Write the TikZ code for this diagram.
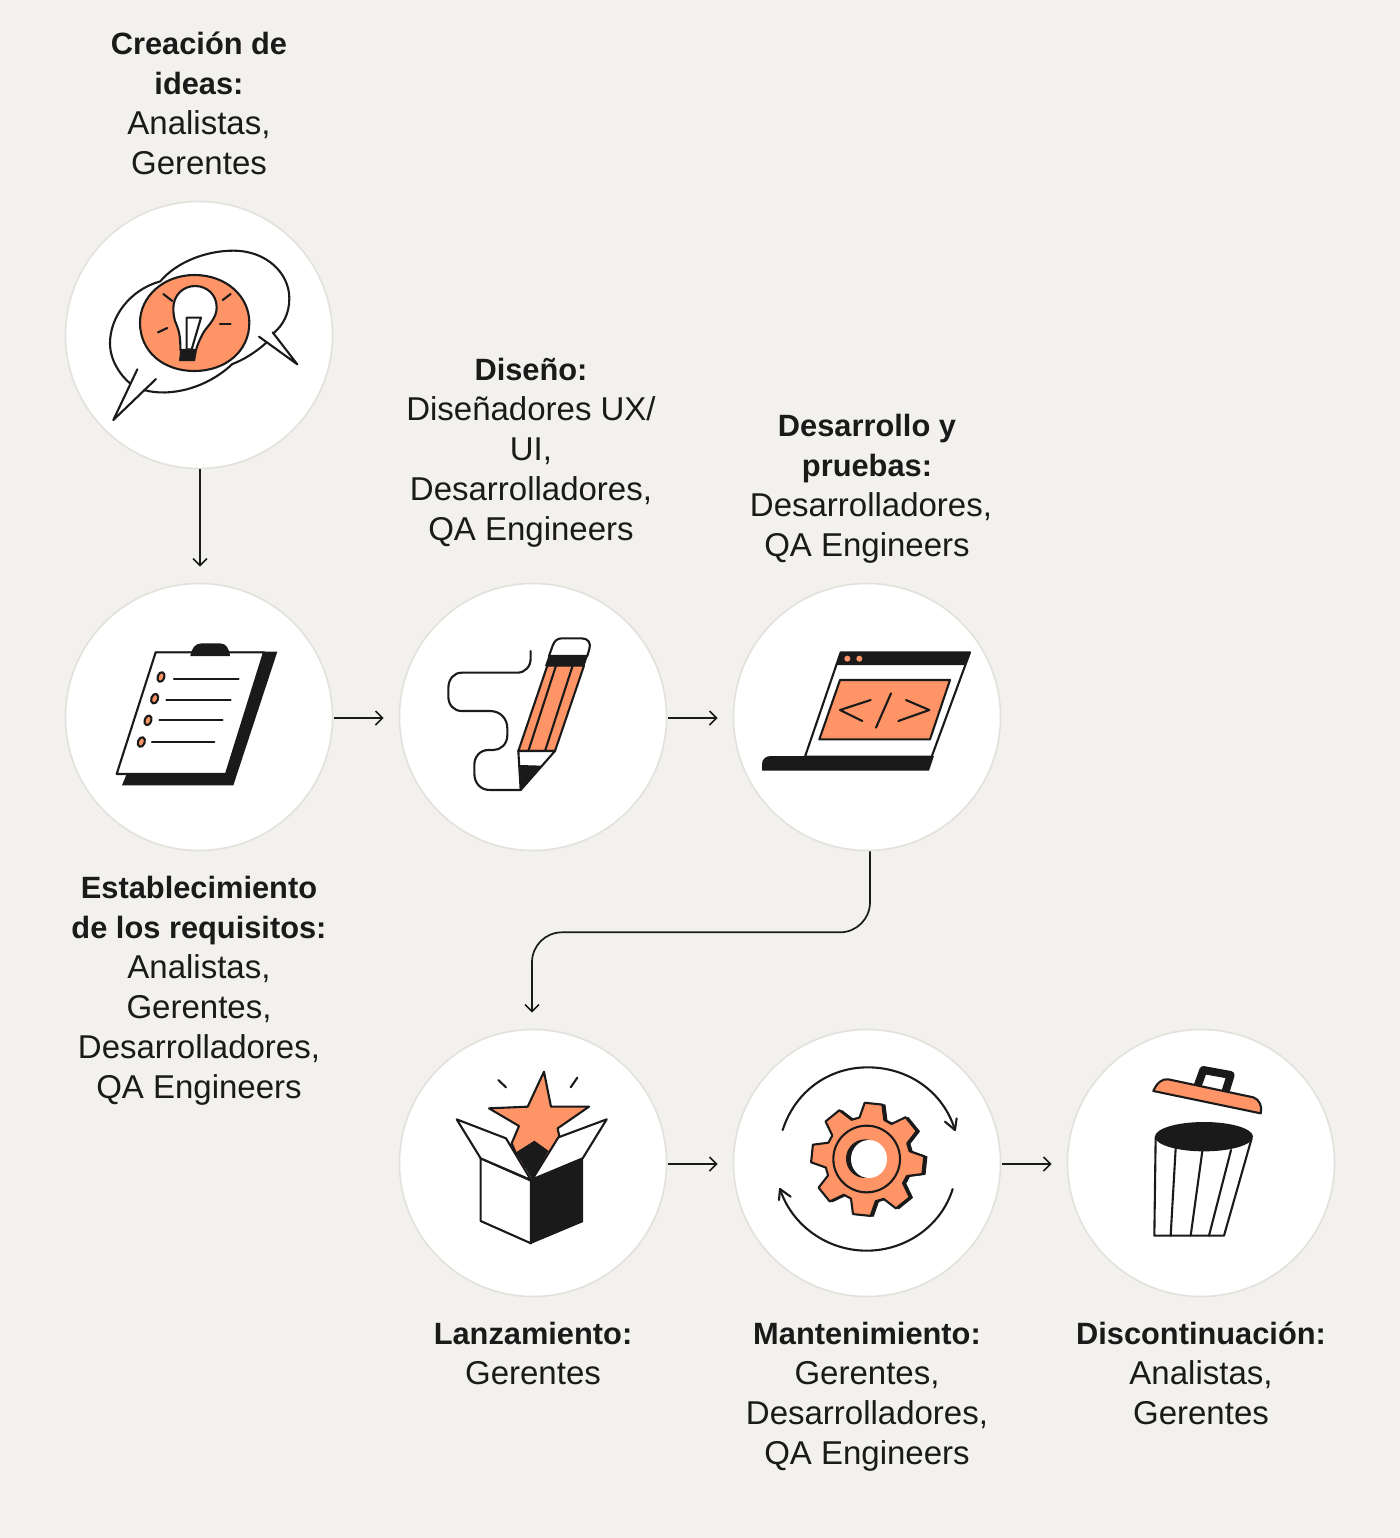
\documentclass[tikz,border=0pt]{standalone}
\usepackage{fontspec}
\setmainfont{Liberation Sans}
\usetikzlibrary{arrows.meta,calc}
\definecolor{bgc}{HTML}{F2F1ED}
\definecolor{ringc}{HTML}{E2E1DC}
\definecolor{ink}{HTML}{1A1A1A}
\definecolor{orng}{HTML}{FF9466}
\tikzset{
  stage/.style={circle,fill=white,draw=ringc,line width=0.8pt,minimum size=133.5pt,inner sep=0pt},
  lbl/.style={anchor=north,inner sep=0pt,align=center,text=ink,font=\fontsize{16.5}{20}\selectfont},
  flow/.style={draw=ink,line width=0.85pt,-{Straight Barb[length=3.5pt,width=7pt,line width=0.85pt]}},
  ic/.style={draw=ink,line width=1.05pt,line join=round,line cap=round},
  icb/.style={fill=ink,draw=ink,line width=0.5pt,line join=round},
  ico/.style={fill=orng,draw=ink,line width=1.05pt,line join=round},
  icw/.style={fill=white,draw=ink,line width=1.05pt,line join=round},
}
\newcommand{\hd}[1]{\strut{\fontsize{15.4}{20}\selectfont\bfseries #1}}
\newcommand{\gearoutline}{(-93:170) -- (-75:170) -- (-67:128) -- (-56:128)
  -- (-48:170) -- (-30:170) -- (-22:128) -- (-11:128)
  -- (-3:170) -- (15:170) -- (23:128) -- (34:128)
  -- (42:170) -- (60:170) -- (68:128) -- (79:128)
  -- (87:170) -- (105:170) -- (113:128) -- (124:128)
  -- (132:170) -- (150:170) -- (158:128) -- (169:128)
  -- (177:170) -- (195:170) -- (203:128) -- (214:128)
  -- (222:170) -- (240:170) -- (248:128) -- (259:128) -- cycle}
\begin{document}
\begin{tikzpicture}[x=0.5pt,y=-0.5pt]
\fill[bgc] (0,0) rectangle (1400,1538);
\useasboundingbox (0,0) rectangle (1400,1538);
\node[stage] (c1) at (199,335) {};
\node[stage] (c2) at (199,717) {};
\node[stage] (c3) at (533,717) {};
\node[stage] (c4) at (867,717) {};
\node[stage] (c5) at (533,1163) {};
\node[stage] (c6) at (867,1163) {};
\node[stage] (c7) at (1201,1163) {};
% connectors
\draw[flow,shorten >=8pt] ($(c1.south)+(1,0)$) -- ($(c2.north)+(1,0)$);
\draw[flow,shorten >=7.5pt] ($(c2.east)+(1,1)$) -- ($(c3.west)+(0,1)$);
\draw[flow,shorten >=7.5pt] ($(c3.east)+(1,1)$) -- ($(c4.west)+(0,1)$);
\draw[flow,shorten >=7.5pt] ($(c5.east)+(1,1)$) -- ($(c6.west)+(0,1)$);
\draw[flow,shorten >=7.5pt] ($(c6.east)+(1,1)$) -- ($(c7.west)+(0,1)$);
\draw[flow,shorten >=8pt,rounded corners=15pt] ($(c4.south)+(3,0)$) -- ++(0,81) -| ($(c5.north)+(-1,0)$);
% labels
\node[lbl] (t1) at (199,26) {\hd{Creación de}\\\hd{ideas:}\\Analistas,\\Gerentes};
\node[lbl] (t2) at (199,870) {\hd{Establecimiento}\\\hd{de los requisitos:}\\Analistas,\\Gerentes,\\Desarrolladores,\\QA Engineers};
\node[lbl] (t3) at (531,352) {\hd{Diseño:}\\Diseñadores UX/\\UI,\\Desarrolladores,\\QA Engineers};
\node[lbl] (t4) at (867,408) {\hd{Desarrollo y}\\\hd{pruebas:}\\\hspace*{4pt}Desarrolladores,\\QA Engineers};
\node[lbl] (t5) at (533,1316) {\hd{Lanzamiento:}\\Gerentes};
\node[lbl] (t6) at (867,1316) {\hd{Mantenimiento:}\\Gerentes,\\Desarrolladores,\\QA Engineers};
\node[lbl] (t7) at (1201,1316) {\hd{Discontinuación:}\\Analistas,\\Gerentes};
% icon 1
\begin{scope}[shift={(70,210)},scale=1/3]
\draw[ic] (268,215) .. controls (180,240) and (120,320) .. (120,400) .. controls (120,450) and (150,495) .. (180,520);
\draw[ic] (202,478) -- (130,630) -- (258,507);
\draw[ic] (222,540) .. controls (300,562) and (410,535) .. (487,462);
\draw[ic] (270,215) .. controls (320,155) and (410,122) .. (490,122) .. controls (590,122) and (658,190) .. (658,265) .. controls (658,310) and (640,345) .. (610,370);
\draw[ic] (608,367) -- (682,463) -- (567,380);
\draw[ic] (590,397) .. controls (560,425) and (520,450) .. (487,462);
\draw[ico] (373,195) .. controls (470,195) and (538,260) .. (538,338) .. controls (538,425) and (465,483) .. (373,483) .. controls (280,483) and (210,425) .. (210,338) .. controls (210,260) and (280,195) .. (373,195) -- cycle;
\draw[icw] (331,420) .. controls (332,380) and (326,360) .. (320,345) .. controls (312,330) and (310,310) .. (310,295) .. controls (310,255) and (340,228) .. (375,228) .. controls (412,228) and (440,255) .. (440,292) .. controls (440,325) and (415,345) .. (402,365) .. controls (390,385) and (382,405) .. (378,420) -- cycle;
\draw[ic,fill=white] (350,323) -- (393,323) -- (365,418) -- (350,418) -- cycle;
\fill[ink] (331,417) -- (381,420) -- (375,453) -- (327,453) -- cycle;
\draw[ic] (280,252) -- (307,273);
\draw[ic] (458,270) -- (482,252);
\draw[ic] (450,341) -- (482,341);
\draw[ic] (264,367) -- (292,354);
\end{scope}
% icon 2
\begin{scope}[shift={(100,630)},scale=1/3]
\fill[ink] (165,65) -- (532,65) -- (400,466) -- (66,466) -- (80,432) -- cycle;
\draw[icw] (167,67) -- (492,67) -- (378,432) -- (50,432) -- cycle;
\fill[ink] (271,78) .. controls (275,55) and (285,40) .. (305,40) -- (360,40) .. controls (378,40) and (388,55) .. (390,78) -- cycle;
\foreach \px/\py in {183/141,164/206,144/271,124/336}{
  \draw[ico,shift={(\px,\py)},rotate=-20] (0,0) ellipse [x radius=10,y radius=15];
}
\draw[ic] (222,146) -- (416,146);
\draw[ic] (199,211) -- (392,211);
\draw[ic] (178,271) -- (368,271);
\draw[ic] (156,337) -- (343,337);
\end{scope}
% icon 3
\begin{scope}[shift={(430,625)},scale=1/3]
\draw[ic] (302,78) -- (302,100) .. controls (302,125) and (285,143) .. (262,143) -- (95,143) .. controls (72,143) and (55,162) .. (55,190) -- (55,215) .. controls (55,240) and (72,258) .. (95,258) -- (180,258) .. controls (210,258) and (232,280) .. (232,310) -- (232,330) .. controls (232,358) and (212,375) .. (190,375) -- (175,375) .. controls (150,375) and (133,395) .. (133,420) -- (133,445) .. controls (133,475) and (152,495) .. (180,495) -- (272,495);
\draw[icw] (357,93) -- (368,62) .. controls (373,48) and (382,40) .. (395,40) -- (455,40) .. controls (475,40) and (484,55) .. (478,72) -- (472,93) -- cycle;
\draw[ico] (265,378) -- (352,122) -- (462,122) -- (375,378) -- cycle;
\draw[icb] (357,93) -- (472,93) -- (462,122) -- (347,122) -- cycle;
\draw[ic] (295,378) -- (378,122);
\draw[ic] (345,378) -- (428,122);
\draw[icw] (265,378) -- (375,378) -- (272,495) -- cycle;
\fill[ink] (270,420) -- (337,422) -- (272,495) -- cycle;
\end{scope}
% icon 4
\begin{scope}[shift={(750,640)},scale=1/3]
\draw[icw] (272,37) -- (660,37) -- (545,350) -- (165,350) -- cycle;
\fill[ink] (272,37) -- (660,37) -- (645,75) -- (260,75) -- cycle;
\fill[orng] (292,56) circle [radius=9];
\fill[orng] (328,56) circle [radius=9];
\draw[ico] (270,120) -- (600,120) -- (540,298) -- (208,298) -- cycle;
\draw[ic] (362,180) -- (270,210) -- (337,243);
\draw[ic] (423,160) -- (378,263);
\draw[ic] (468,180) -- (538,210) -- (445,243);
\fill[ink] (36,392) -- (36,372) .. controls (36,357) and (48,348) .. (62,348) -- (552,348) -- (537,392) -- cycle;
\end{scope}
% icon 5
\begin{scope}[shift={(445,1060)},scale=1/3]
\draw[ico] (297,35) -- (318,140) -- (432,140) -- (338,205) -- (345,240) -- (300,320) -- (230,320) -- (200,250) -- (222,198) -- (132,145) -- (248,140) -- cycle;
\fill[ink] (213,277) -- (268,242) -- (310,272) -- (262,360) -- cycle;
\draw[icw] (107,295) -- (258,362) -- (258,550) -- (107,483) -- cycle;
\draw[icb] (258,362) -- (413,295) -- (413,485) -- (258,550) -- cycle;
\draw[icw] (107,295) -- (35,178) -- (183,235) -- (258,360) -- cycle;
\draw[icw] (413,295) -- (485,178) -- (340,232) -- (262,358) -- cycle;
\draw[ic] (160,60) -- (183,82);
\draw[ic] (397,53) -- (377,82);
\end{scope}
% icon 6
\begin{scope}[shift={(770,1060)},scale=1/3]
\draw[ic] (38,210) .. controls (75,95) and (175,22) .. (293,22) .. controls (415,22) and (520,95) .. (555,210);
\draw[ic] (525,185) -- (555,210) -- (560,175);
\draw[ic] (548,387) .. controls (515,495) and (410,572) .. (290,572) .. controls (170,572) and (65,495) .. (30,387);
\draw[ic] (62,410) -- (30,387) -- (27,420);
\draw[icb,shift={(301,299)}] \gearoutline;
\draw[ico,shift={(293,298)}] \gearoutline;
\draw[ic] (290,297) circle [radius=100];
\fill[ink] (285,296) ellipse [x radius=57,y radius=58];
\fill[white] (297,297) ellipse [x radius=54,y radius=57];
\end{scope}
% icon 7
\begin{scope}[shift={(1140,1055)},scale=1/3]
\draw[ink,line width=4pt,line join=round] (172,95) -- (190,45) -- (272,60) -- (255,115);
\draw[ico] (40,108) .. controls (50,85) and (65,70) .. (85,73) -- (340,127) .. controls (358,133) and (368,155) .. (362,175) -- cycle;
\draw[icw] (47,245) -- (43,542) -- (252,542) -- (335,250);
\draw[ic] (107,280) -- (92,542);
\draw[ic] (187,288) -- (152,542);
\draw[ic] (273,285) -- (207,542);
\fill[ink] (192,245) ellipse [x radius=147,y radius=44];
\end{scope}
\end{tikzpicture}
\end{document}
